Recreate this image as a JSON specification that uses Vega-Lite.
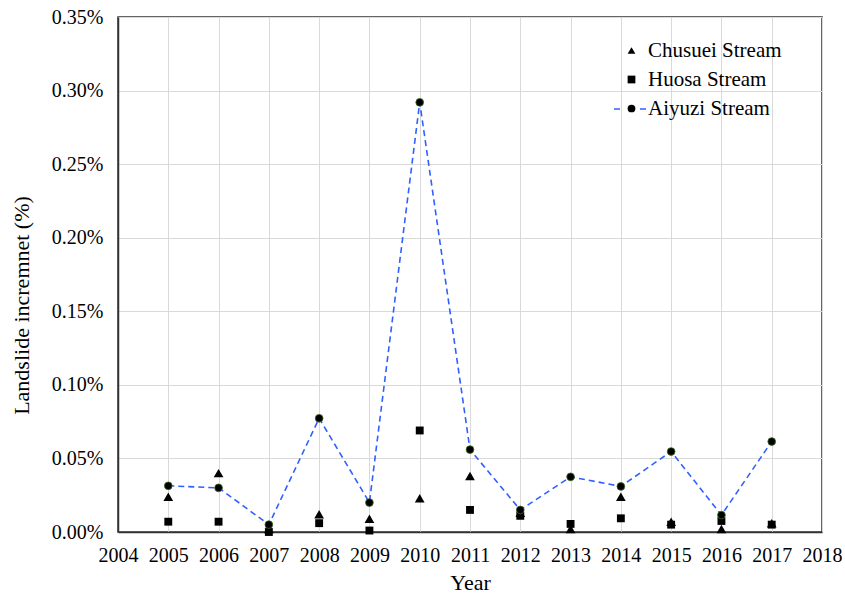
{
  "$schema": "https://vega.github.io/schema/vega-lite/v6.json",
  "width": 704,
  "height": 515,
  "autosize": {"type": "none"},
  "padding": {"left": 118, "top": 17, "right": 23, "bottom": 64},
  "background": "white",
  "config": {
    "font": "Liberation Serif",
    "style": {
      "guide-label": {"font": "Liberation Serif", "fill": "black"},
      "guide-title": {"font": "Liberation Serif", "fill": "black"}
    },
    "view": {"stroke": "#333333", "strokeWidth": 1.5},
    "axis": {
      "labelFont": "Liberation Serif",
      "labelFontSize": 20,
      "labelColor": "black",
      "titleFont": "Liberation Serif",
      "titleFontSize": 22,
      "titleFontWeight": "normal",
      "titleColor": "black",
      "gridColor": "#d9d9d9",
      "gridWidth": 1,
      "domainColor": "#333333",
      "domainWidth": 1.5,
      "ticks": false,
      "labelOverlap": false,
      "labelBound": false,
      "labelFlush": false
    },
    "legend": {
      "labelFont": "Liberation Serif",
      "labelFontSize": 21,
      "labelColor": "black"
    }
  },
  "data": {
    "values": [
      {"year": 2005, "series": "Chusuei Stream", "value": 0.00024},
      {"year": 2006, "series": "Chusuei Stream", "value": 0.00040},
      {"year": 2007, "series": "Chusuei Stream", "value": 0.00002},
      {"year": 2008, "series": "Chusuei Stream", "value": 0.00012},
      {"year": 2009, "series": "Chusuei Stream", "value": 0.00009},
      {"year": 2010, "series": "Chusuei Stream", "value": 0.00023},
      {"year": 2011, "series": "Chusuei Stream", "value": 0.00038},
      {"year": 2012, "series": "Chusuei Stream", "value": 0.00013},
      {"year": 2013, "series": "Chusuei Stream", "value": 0.00002},
      {"year": 2014, "series": "Chusuei Stream", "value": 0.00024},
      {"year": 2015, "series": "Chusuei Stream", "value": 0.00007},
      {"year": 2016, "series": "Chusuei Stream", "value": 0.00002},
      {"year": 2017, "series": "Chusuei Stream", "value": 0.00006},
      {"year": 2005, "series": "Huosa Stream", "value": 0.00007},
      {"year": 2006, "series": "Huosa Stream", "value": 0.00007},
      {"year": 2007, "series": "Huosa Stream", "value": 0.0},
      {"year": 2008, "series": "Huosa Stream", "value": 0.00006},
      {"year": 2009, "series": "Huosa Stream", "value": 0.00001},
      {"year": 2010, "series": "Huosa Stream", "value": 0.00069},
      {"year": 2011, "series": "Huosa Stream", "value": 0.00015},
      {"year": 2012, "series": "Huosa Stream", "value": 0.00011},
      {"year": 2013, "series": "Huosa Stream", "value": 0.000055},
      {"year": 2014, "series": "Huosa Stream", "value": 0.000093},
      {"year": 2015, "series": "Huosa Stream", "value": 0.00005},
      {"year": 2016, "series": "Huosa Stream", "value": 0.000075},
      {"year": 2017, "series": "Huosa Stream", "value": 0.00005},
      {"year": 2005, "series": "Aiyuzi Stream", "value": 0.000314},
      {"year": 2006, "series": "Aiyuzi Stream", "value": 0.00030},
      {"year": 2007, "series": "Aiyuzi Stream", "value": 0.00005},
      {"year": 2008, "series": "Aiyuzi Stream", "value": 0.000773},
      {"year": 2009, "series": "Aiyuzi Stream", "value": 0.00020},
      {"year": 2010, "series": "Aiyuzi Stream", "value": 0.00292},
      {"year": 2011, "series": "Aiyuzi Stream", "value": 0.00056},
      {"year": 2012, "series": "Aiyuzi Stream", "value": 0.00015},
      {"year": 2013, "series": "Aiyuzi Stream", "value": 0.000375},
      {"year": 2014, "series": "Aiyuzi Stream", "value": 0.00031},
      {"year": 2015, "series": "Aiyuzi Stream", "value": 0.000547},
      {"year": 2016, "series": "Aiyuzi Stream", "value": 0.000115},
      {"year": 2017, "series": "Aiyuzi Stream", "value": 0.000615}
    ]
  },
  "encoding": {
    "x": {
      "field": "year",
      "type": "quantitative",
      "scale": {"domain": [2004, 2018], "nice": false, "zero": false},
      "axis": {
        "title": "Year",
        "values": [2004, 2005, 2006, 2007, 2008, 2009, 2010, 2011, 2012, 2013, 2014, 2015, 2016, 2017, 2018],
        "format": "d",
        "labelFont": "Liberation Serif",
        "labelFontSize": 20,
        "labelPadding": 13,
        "titlePadding": 7
      }
    },
    "y": {
      "field": "value",
      "type": "quantitative",
      "scale": {"domain": [0, 0.0035], "nice": false},
      "axis": {
        "title": "Landslide incremnet (%)",
        "values": [0, 0.0005, 0.001, 0.0015, 0.002, 0.0025, 0.003, 0.0035],
        "format": ".2%",
        "labelFont": "Liberation Serif",
        "labelFontSize": 20,
        "labelPadding": 15,
        "titlePadding": 18,
        "titleY": 288
      }
    }
  },
  "layer": [
    {
      "transform": [{"filter": "datum.series === 'Aiyuzi Stream'"}],
      "mark": {"type": "line", "color": "#3060ff", "strokeWidth": 1.6},
      "encoding": {
        "strokeDash": {
          "field": "series",
          "type": "nominal",
          "scale": {"domain": ["Aiyuzi Stream"], "range": [[6, 4]]},
          "legend": null
        }
      }
    },
    {
      "transform": [{"filter": "datum.series === 'Chusuei Stream'"}],
      "mark": {"type": "point", "shape": "triangle-up", "filled": true, "color": "black", "opacity": 1, "size": 95}
    },
    {
      "transform": [{"filter": "datum.series === 'Huosa Stream'"}],
      "mark": {"type": "point", "shape": "square", "filled": true, "color": "black", "opacity": 1, "size": 62}
    },
    {
      "transform": [{"filter": "datum.series === 'Aiyuzi Stream'"}],
      "mark": {"type": "point", "shape": "circle", "filled": true, "fill": "black", "stroke": "#3d6b1f", "strokeWidth": 0.8, "opacity": 1, "size": 60}
    },
    {
      "transform": [{"filter": "datum.series === 'Aiyuzi Stream'"}],
      "mark": {"type": "line", "color": "#3060ff", "strokeWidth": 1.6, "opacity": 0},
      "encoding": {
        "strokeDash": {
          "field": "series",
          "type": "nominal",
          "scale": {"domain": ["Aiyuzi Stream"], "range": [[6, 20]]},
          "legend": {
            "title": null,
            "orient": "none",
            "legendX": 495,
            "legendY": 75,
            "padding": 0,
            "symbolType": "stroke",
            "symbolSize": 1024,
            "symbolStrokeWidth": 1.6,
            "symbolStrokeColor": "#3060ff",
            "symbolOpacity": 1,
            "labelExpr": "''"
          }
        }
      }
    },
    {
      "mark": {"type": "point", "filled": true, "color": "black", "opacity": 0, "size": 60},
      "encoding": {
        "shape": {
          "field": "series",
          "type": "nominal",
          "scale": {
            "domain": ["Chusuei Stream", "Huosa Stream", "Aiyuzi Stream"],
            "range": ["triangle-up", "square", "circle"]
          },
          "legend": {
            "title": null,
            "orient": "none",
            "legendX": 503,
            "legendY": 23,
            "padding": 0,
            "symbolSize": 60,
            "symbolOpacity": 1,
            "symbolFillColor": "black",
            "symbolStrokeWidth": 0,
            "labelFont": "Liberation Serif",
            "labelFontSize": 21,
            "labelOffset": 6,
            "rowPadding": 7
          }
        }
      }
    }
  ],
  "resolve": {"scale": {"strokeDash": "independent"}}
}
